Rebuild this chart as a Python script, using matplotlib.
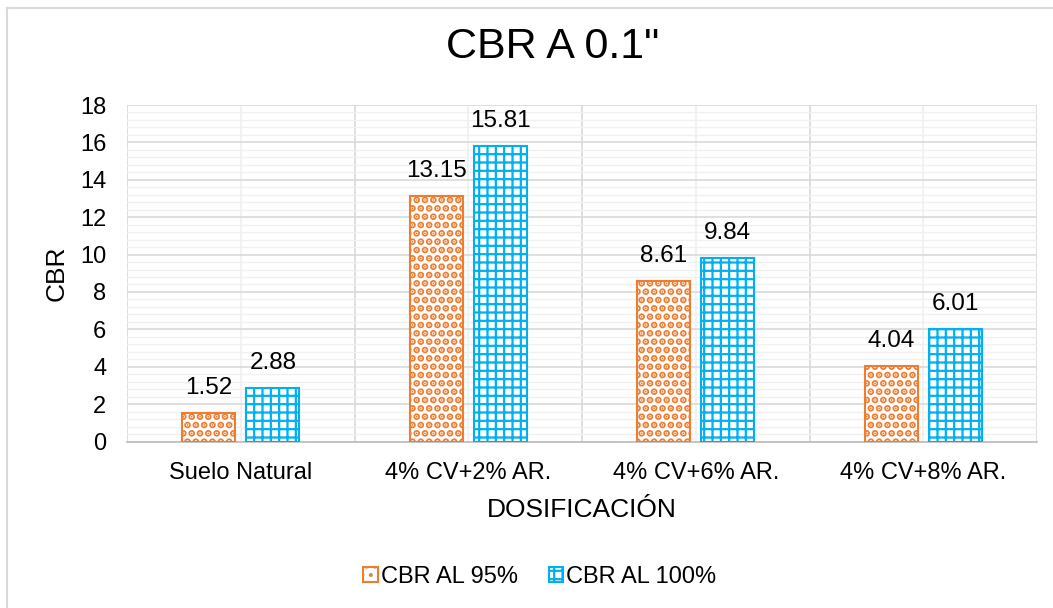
import numpy as np
import matplotlib.pyplot as plt
from matplotlib.ticker import MultipleLocator, FixedLocator

categories = ['Suelo Natural', '4% CV+2% AR.', '4% CV+6% AR.', '4% CV+8% AR.']
cbr_95 = [1.52, 13.15, 8.61, 4.04]
cbr_100 = [2.88, 15.81, 9.84, 6.01]
series_names = ['CBR AL 95%', 'CBR AL 100%']

orange = '#ED7D31'
blue = '#00B0F0'

plt.rcParams['font.family'] = ['Liberation Sans', 'DejaVu Sans']

fig = plt.figure(figsize=(10.53, 6.08), dpi=100)
ax = fig.add_axes([127 / 1053, 1 - 441.5 / 608, 910 / 1053, 336.5 / 608])

x = np.arange(len(categories))
w = 0.233
off = 0.1407

# dotted fill for the 95% series, grid fill for the 100% series
plt.rcParams['hatch.linewidth'] = 3.5
b1 = ax.bar(x - off, cbr_95, w, facecolor='white', edgecolor=orange,
            hatch='..', linewidth=1.5, label=series_names[0], zorder=3)
plt.rcParams['hatch.linewidth'] = 1.6
b2 = ax.bar(x + off, cbr_100, w, facecolor='white', edgecolor=blue,
            hatch='++', linewidth=1.5, label=series_names[1], zorder=3)

for bars, vals in [(b1, cbr_95), (b2, cbr_100)]:
    for rect, v in zip(bars, vals):
        ax.annotate(f'{v:.2f}', (rect.get_x() + rect.get_width() / 2, v),
                    xytext=(0, 10), textcoords='offset points',
                    ha='center', va='bottom', fontsize=17.5)

ax.set_xlim(-0.5, len(categories) - 0.5)
ax.set_ylim(0, 18)
ax.yaxis.set_major_locator(MultipleLocator(2))
ax.yaxis.set_minor_locator(MultipleLocator(0.4))
ax.set_xticks(x)
ax.set_xticklabels(categories)
ax.xaxis.set_minor_locator(FixedLocator(np.arange(-0.5, len(categories), 1.0)))

ax.grid(True, which='major', axis='y', color='#D9D9D9', linewidth=1.2, zorder=0)
ax.grid(True, which='minor', axis='y', color='#F0F0F0', linewidth=1.0, zorder=0)
ax.grid(True, which='minor', axis='x', color='#D9D9D9', linewidth=1.2, zorder=0)
ax.grid(True, which='major', axis='x', color='#F0F0F0', linewidth=1.2, zorder=0)
ax.set_axisbelow(True)

ax.tick_params(which='both', length=0, labelsize=17, colors='black')
ax.tick_params(axis='x', pad=15)
ax.tick_params(axis='y', pad=15)
for side in ['top', 'left', 'right']:
    ax.spines[side].set_visible(False)
ax.spines['bottom'].set_color('#BFBFBF')
ax.spines['bottom'].set_linewidth(1.3)

ax.set_xlabel('DOSIFICACIÓN', fontsize=19, labelpad=10)
ax.set_ylabel('CBR', fontsize=19, labelpad=8)
fig.text(553 / 1053, 1 - 47 / 608, 'CBR A 0.1"', ha='center', va='center', fontsize=31)

fig.legend(handles=[b1, b2], loc='center', bbox_to_anchor=(540 / 1053, 1 - 577 / 608),
           ncol=2, frameon=False, fontsize=17, handlelength=0.6,
           handleheight=0.6, handletextpad=0.15, columnspacing=1.3)

# outer chart frame (only top and left edges visible in the image)
fig.add_artist(plt.Line2D([7 / 1053, 1], [1 - 8 / 608, 1 - 8 / 608],
                          color='#D9D9D9', linewidth=1.5, transform=fig.transFigure))
fig.add_artist(plt.Line2D([7 / 1053, 7 / 1053], [0, 1 - 8 / 608],
                          color='#D9D9D9', linewidth=1.5, transform=fig.transFigure))

fig.savefig('out.png', dpi=100)
